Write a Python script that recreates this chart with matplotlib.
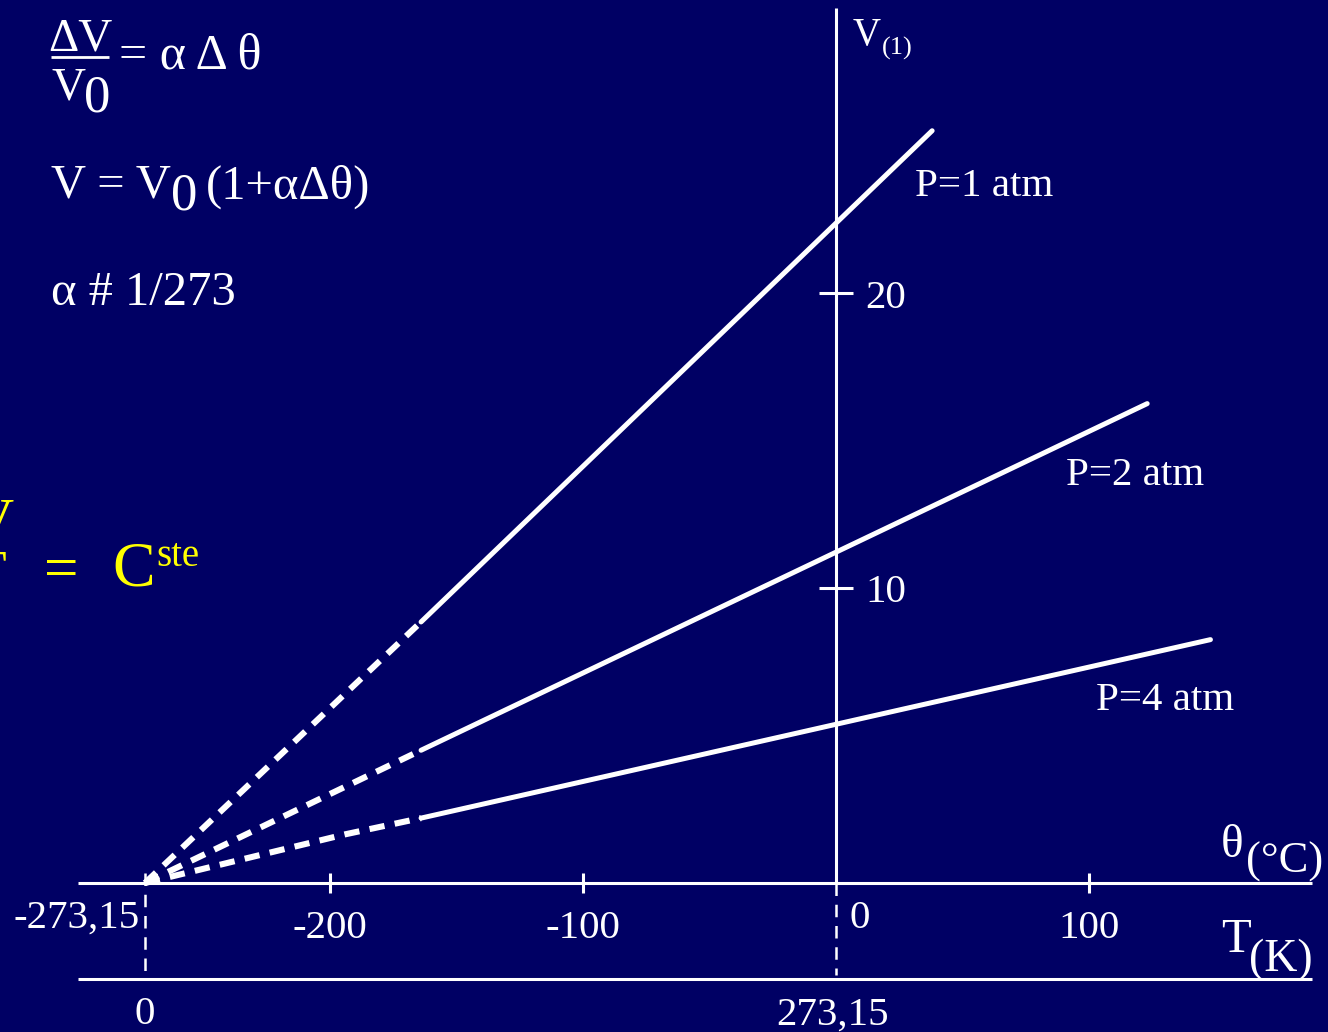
import matplotlib
matplotlib.use("Agg")
import matplotlib.pyplot as plt

# ---------------- data ----------------
theta_abs_zero = -273.15
# solid (measured) segments: theta in degC, V in L
p1_theta = [-164, 38]
p1_V = [8.85, 25.5]
p2_theta = [-164, 123]
p2_V = [4.5, 16.25]
p4_theta = [-164, 148]
p4_V = [2.2, 8.25]
# dashed extrapolations toward absolute zero
p1_dash_theta = [-273.15, -164]
p1_dash_V = [0, 8.85]
p2_dash_theta = [-273.15, -164]
p2_dash_V = [0, 4.5]
p4_dash_theta = [-273.15, -194, -164]
p4_dash_V = [0, 1.65, 2.2]
series_labels = ["P=1 atm", "P=2 atm", "P=4 atm"]
theta_ticks = [-200, -100, 100]
theta_tick_labels = ["-200", "-100", "100"]
V_ticks = [10, 20]
V_tick_labels = ["10", "20"]

# ---------------- layout ----------------
W, H = 1328, 1032
BG = "#000064"
FG = "white"
YEL = "#FFFF00"
FONT = "Liberation Serif"
X0PX, XSCALE = 836, 2.53     # pixel of theta=0, px per degC
Y0PX, YSCALE = 883, 29.5     # pixel of V=0, px per L

fig = plt.figure(figsize=(W / 100, H / 100), dpi=100, facecolor=BG)
ax = fig.add_axes([0, 0, 1, 1])
ax.set_facecolor(BG)
ax.set_xlim(-X0PX / XSCALE, (W - X0PX) / XSCALE)
ax.set_ylim((Y0PX - H) / YSCALE, Y0PX / YSCALE)
ax.axis("off")


def T(x, y, s, size, ha="left", va="center", color=FG, **kw):
    fig.text(x / W, 1 - y / H, s, fontsize=size, ha=ha, va=va,
             color=color, family=FONT, **kw)


def xd(px):
    return (px - X0PX) / XSCALE


def yd(py):
    return (Y0PX - py) / YSCALE


# axes lines
ax.plot([xd(78), xd(1312)], [0, 0], color=FG, lw=2.2, solid_capstyle="butt")
ax.plot([xd(78), xd(1312)], [yd(979), yd(979)], color=FG, lw=2.2, solid_capstyle="butt")
ax.plot([0, 0], [0, yd(8)], color=FG, lw=2.2, solid_capstyle="butt")
# dashed verticals to the Kelvin axis
ax.plot([0, 0], [0, yd(975)], color=FG, lw=1.8, dashes=(5, 3.5))
ax.plot([theta_abs_zero, theta_abs_zero], [yd(873), yd(975)], color=FG, lw=1.8, dashes=(5, 3.5))

# ticks
for t in theta_ticks:
    ax.plot(t, 0, marker="|", ms=15, mew=2.2, color=FG)
for v in V_ticks:
    ax.plot(0, v, marker="_", ms=25, mew=2.2, color=FG)

# data lines
for th, v in [(p1_theta, p1_V), (p2_theta, p2_V), (p4_theta, p4_V)]:
    ax.plot(th, v, color=FG, lw=3.6, solid_capstyle="round")
for th, v in [(p1_dash_theta, p1_dash_V), (p2_dash_theta, p2_dash_V), (p4_dash_theta, p4_dash_V)]:
    ax.plot(th, v, color=FG, lw=4.4, dashes=(2.5, 1.7), dash_capstyle="butt")

# tick labels (x positions via data scale)
for t, lab in zip(theta_ticks, theta_tick_labels):
    ax.text(t, yd(928), lab, fontsize=29.5, ha="center", va="center", color=FG, family=FONT)
ax.text(xd(849), yd(918), "0", fontsize=29.5, ha="left", va="center", color=FG, family=FONT)
ax.text(theta_abs_zero - 2, yd(918), "-273,15", fontsize=29.5, ha="right", va="center", color=FG, family=FONT)
ax.text(theta_abs_zero, yd(1015), "0", fontsize=29.5, ha="center", va="center", color=FG, family=FONT)
ax.text(-1.5, yd(1015), "273,15", fontsize=29.5, ha="center", va="center", color=FG, family=FONT)
for v, lab in zip(V_ticks, V_tick_labels):
    ax.text(xd(865), v - 5 / YSCALE, lab, fontsize=29.5, ha="left", va="center", color=FG, family=FONT)

# series labels
T(915, 186, series_labels[0], 29.5)
T(1066, 476, series_labels[1], 29.5)
T(1096, 701, series_labels[2], 29.5)

# axis titles
T(853, 35, "V", 28)
T(882, 48, "(1)", 19)
T(1221, 846, "θ", 34)
T(1246, 862, "(°C)", 32)
T(1221, 940, "T", 35)
T(1249, 960, "(K)", 33)

# formulas top-left
T(80, 39, "ΔV", 34, ha="center")
ax.plot([xd(51), xd(109)], [yd(57), yd(57)], color=FG, lw=2, solid_capstyle="butt")
T(52, 88, "V", 34)
T(84, 99, "0", 38)
T(119, 56, "= α Δ θ", 36)
T(51, 186, "V = V", 35)
T(171, 197, "0", 38)
T(206, 187, "(1+αΔθ)", 35)
T(51, 293, "α # 1/273", 35)

# yellow partial law (cut at the left edge, as in the original slide)
T(14, 538, "V", 42, ha="right", va="baseline", color=YEL)
T(7, 590, "T", 42, ha="right", va="baseline", color=YEL)
T(44, 573, "=", 44, color=YEL)
T(112, 571, "C", 46, color=YEL)
T(156, 557, "ste", 28, color=YEL)

fig.savefig("out.png", dpi=100, facecolor=BG)
